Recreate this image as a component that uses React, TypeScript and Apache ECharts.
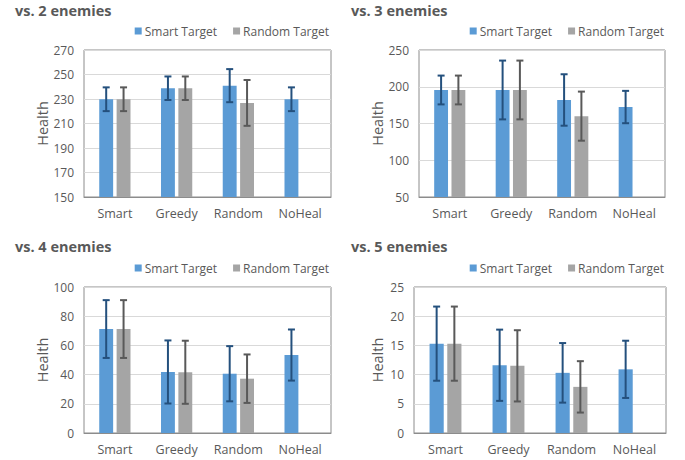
import React, { useEffect, useRef } from "react";
import * as echarts from "echarts";

const categories = ["Smart", "Greedy", "Random", "NoHeal"];
const seriesNames = ["Smart Target", "Random Target"];
const panelTitles = ["vs. 2 enemies", "vs. 3 enemies", "vs. 4 enemies", "vs. 5 enemies"];

const e2Smart = [229.8, 238.8, 240.9, 229.8];
const e2SmartErr = [9.7, 9.6, 13.5, 9.7];
const e2Random = [229.8, 238.8, 226.8, null];
const e2RandomErr = [9.7, 9.6, 18.7, null];

const e3Smart = [195.6, 195.6, 182.0, 172.4];
const e3SmartErr = [19.6, 40.0, 35.0, 22.0];
const e3Random = [195.6, 195.6, 160.0, null];
const e3RandomErr = [19.6, 40.0, 33.4, null];

const e4Smart = [71.2, 41.8, 40.6, 53.4];
const e4SmartErr = [19.8, 21.6, 18.9, 17.5];
const e4Random = [71.2, 41.6, 37.2, null];
const e4RandomErr = [19.8, 21.6, 16.6, null];

const e5Smart = [15.3, 11.6, 10.3, 10.9];
const e5SmartErr = [6.35, 6.1, 5.1, 4.9];
const e5Random = [15.3, 11.5, 7.9, null];
const e5RandomErr = [6.35, 6.1, 4.4, null];

const yMin = [150, 50, 0, 0];
const yMax = [270, 250, 100, 25];
const yStep = [20, 50, 20, 5];

const FONT = "'Open Sans', 'Noto Sans', sans-serif";
const TXT = "#595959";
const BLUE = "#5b9bd5";
const GRAY = "#a5a5a5";
const BLUE_ERR = "#24507d";
const GRAY_ERR = "#595959";

const BAR_W = 0.225;
const BAR_GAP = 0.25;

export default function App() {
  const ref = useRef<HTMLDivElement>(null);
  useEffect(() => {
    document.body.style.margin = "0";
    if (!ref.current) return;
    const chart = echarts.init(ref.current, undefined, { renderer: "svg" });

    const panels = [
      { s: e2Smart, se: e2SmartErr, r: e2Random, re: e2RandomErr },
      { s: e3Smart, se: e3SmartErr, r: e3Random, re: e3RandomErr },
      { s: e4Smart, se: e4SmartErr, r: e4Random, re: e4RandomErr },
      { s: e5Smart, se: e5SmartErr, r: e5Random, re: e5RandomErr },
    ];

    const grids = [
      { left: 84, top: 50, width: 247, height: 147 },
      { left: 419, top: 50, width: 246, height: 147 },
      { left: 84, top: 287, width: 247, height: 146 },
      { left: 414, top: 287, width: 252, height: 146 },
    ];
    const nameGaps = [34, 34, 34, 29];
    const titlePos = [
      { left: 15, top: 3 },
      { left: 351, top: 3 },
      { left: 15, top: 239 },
      { left: 351, top: 239 },
    ];
    const legendPos = [
      { right: 356, top: 25 },
      { right: 21, top: 25 },
      { right: 356, top: 262 },
      { right: 21, top: 262 },
    ];

    const errSeries = (vals: (number | null)[], errs: (number | null)[], idx: number, side: number, color: string) => ({
      type: "custom",
      xAxisIndex: idx,
      yAxisIndex: idx,
      z: 5,
      silent: true,
      data: vals
        .map((v, i) => (v == null || errs[i] == null ? null : [i, v - (errs[i] as number), v + (errs[i] as number)]))
        .filter((d) => d !== null),
      renderItem: (params: any, api: any) => {
        const i = api.value(0);
        const lo = api.coord([i, api.value(1)]);
        const hi = api.coord([i, api.value(2)]);
        const band = api.size([1, 0])[0];
        const bw = band * BAR_W;
        const off = side * (bw + bw * BAR_GAP) / 2;
        const x = lo[0] + off;
        const cap = 3.5;
        const style = { stroke: color, lineWidth: 2 };
        return {
          type: "group",
          children: [
            { type: "line", shape: { x1: x, y1: lo[1], x2: x, y2: hi[1] }, style },
            { type: "line", shape: { x1: x - cap, y1: lo[1], x2: x + cap, y2: lo[1] }, style },
            { type: "line", shape: { x1: x - cap, y1: hi[1], x2: x + cap, y2: hi[1] }, style },
          ],
        };
      },
    });

    const series: any[] = [];
    panels.forEach((p, idx) => {
      series.push({
        name: seriesNames[0],
        type: "bar",
        xAxisIndex: idx,
        yAxisIndex: idx,
        barWidth: BAR_W * 100 + "%",
        barGap: BAR_GAP * 100 + "%",
        itemStyle: { color: BLUE },
        data: p.s.map((v) => (v == null ? "-" : v)),
      });
      series.push({
        name: seriesNames[1],
        type: "bar",
        xAxisIndex: idx,
        yAxisIndex: idx,
        barWidth: BAR_W * 100 + "%",
        barGap: BAR_GAP * 100 + "%",
        itemStyle: { color: GRAY },
        data: p.r.map((v) => (v == null ? "-" : v)),
      });
      series.push(errSeries(p.s, p.se, idx, -1, BLUE_ERR));
      series.push(errSeries(p.r, p.re, idx, 1, GRAY_ERR));
    });

    chart.setOption({
      animation: false,
      textStyle: { fontFamily: FONT },
      title: panelTitles.map((t, i) => ({
        text: t,
        left: titlePos[i].left,
        top: titlePos[i].top,
        padding: 0,
        textStyle: { fontFamily: FONT, fontSize: 14.5, fontWeight: "bold", color: TXT },
      })),
      legend: legendPos.map((lp) => ({
        data: seriesNames,
        right: lp.right,
        top: lp.top,
        padding: 0,
        itemWidth: 7,
        itemHeight: 7,
        itemGap: 16,
        icon: "rect",
        selectedMode: false,
        textStyle: { fontFamily: FONT, fontSize: 12, color: TXT, padding: [0, 0, 0, -2] },
      })),
      grid: grids.map((g) => ({
        ...g,
        show: true,
        borderColor: "#8c8c8c",
        borderWidth: 1,
        backgroundColor: "transparent",
        containLabel: false,
      })),
      xAxis: grids.map((_, i) => ({
        type: "category",
        gridIndex: i,
        data: categories,
        axisLine: { show: true, lineStyle: { color: "#8c8c8c" } },
        axisTick: { show: false },
        axisLabel: { color: TXT, fontFamily: FONT, fontSize: 12.5, margin: 10, interval: 0 },
      })),
      yAxis: grids.map((_, i) => ({
        type: "value",
        gridIndex: i,
        min: yMin[i],
        max: yMax[i],
        interval: yStep[i],
        name: "Health",
        nameLocation: "middle",
        nameGap: nameGaps[i],
        nameTextStyle: { color: TXT, fontFamily: FONT, fontSize: 14.5 },
        axisLine: { show: false },
        axisTick: { show: false },
        splitLine: { show: true, lineStyle: { color: "#d9d9d9" } },
        axisLabel: { color: TXT, fontFamily: FONT, fontSize: 12, margin: 10 },
      })),
      series,
    });

    return () => chart.dispose();
  }, []);
  return <div ref={ref} style={{ width: 685, height: 460 }} />;
}
